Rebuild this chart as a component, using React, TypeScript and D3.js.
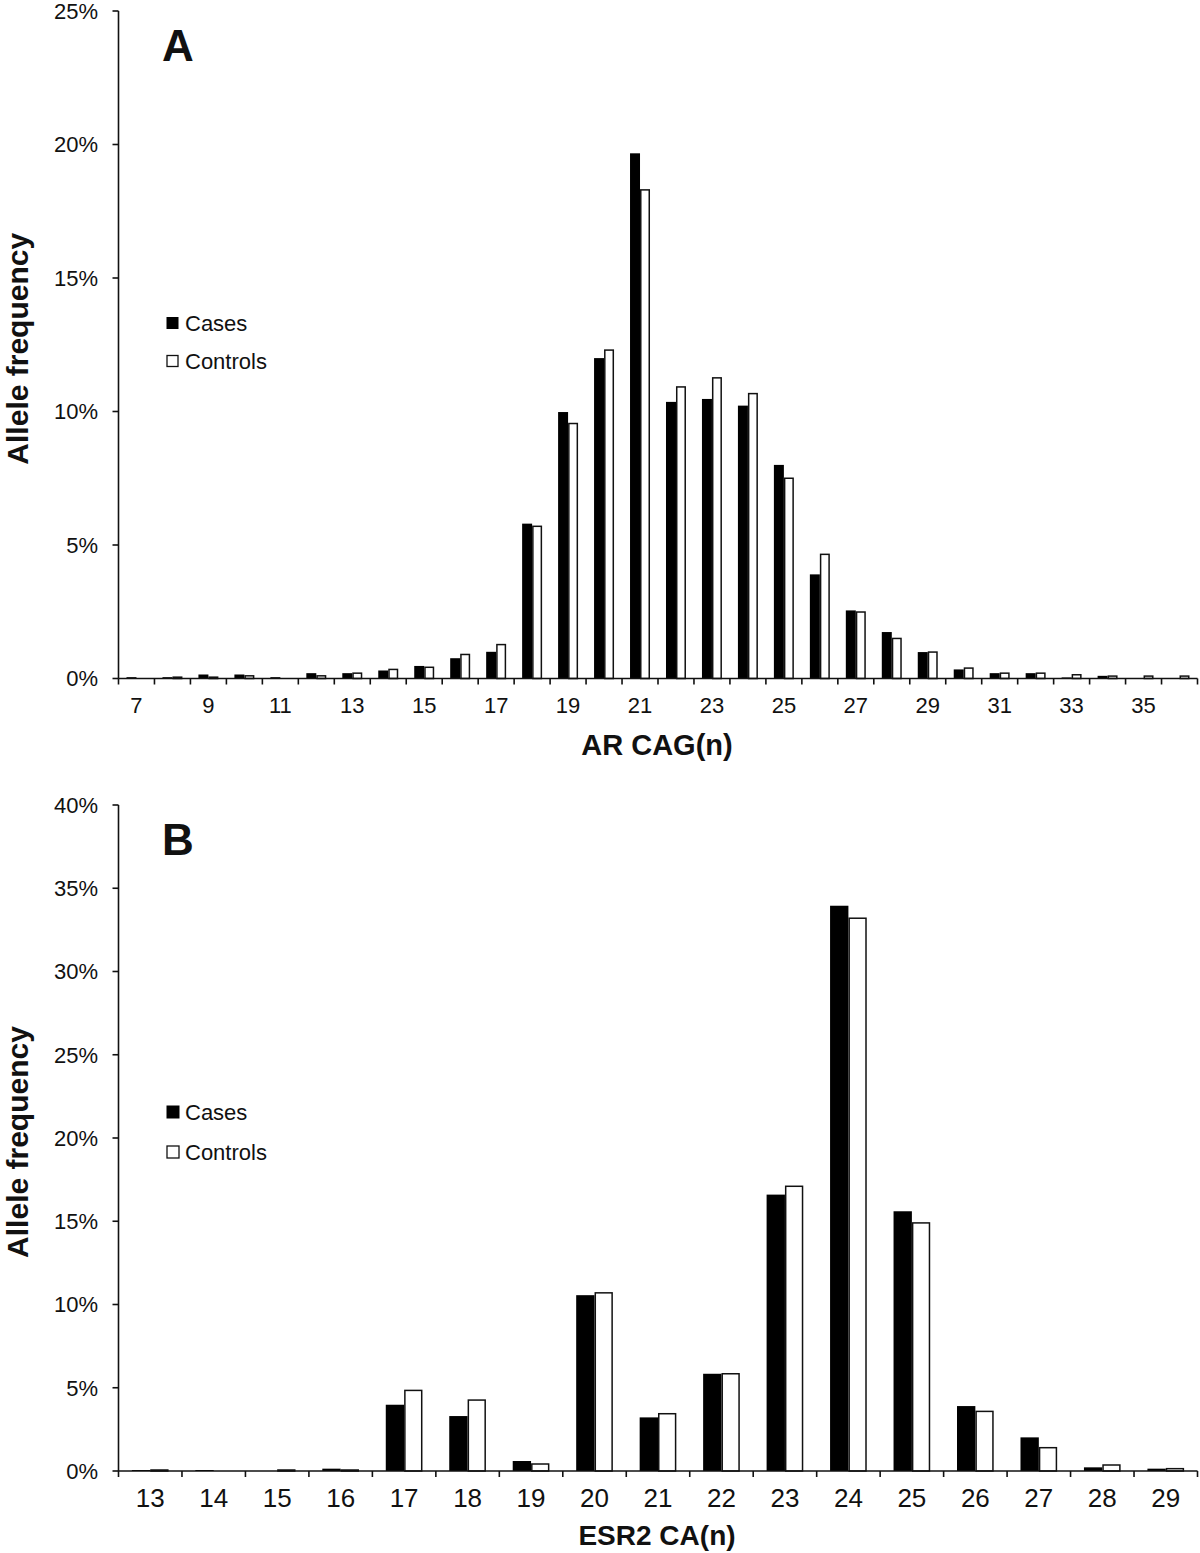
import React from 'react';
import * as d3 from 'd3';

const catsA = [7,8,9,10,11,12,13,14,15,16,17,18,19,20,21,22,23,24,25,26,27,28,29,30,31,32,33,34,35,36];
const casesA = [0.05,0.05,0.15,0.15,0.05,0.2,0.2,0.3,0.47,0.76,1.0,5.8,9.98,12.0,19.67,10.36,10.47,10.22,8.0,3.9,2.55,1.74,0.99,0.34,0.2,0.2,0.04,0.1,0,0];
const controlsA = [0,0.05,0.05,0.1,0,0.1,0.2,0.34,0.42,0.9,1.27,5.7,9.55,12.3,18.3,10.92,11.26,10.67,7.5,4.65,2.49,1.5,0.99,0.39,0.2,0.2,0.14,0.09,0.09,0.09];
const ticksA = [0,5,10,15,20,25];

const catsB = [13,14,15,16,17,18,19,20,21,22,23,24,25,26,27,28,29];
const casesB = [0.06,0.06,0,0.14,3.98,3.3,0.6,10.56,3.22,5.84,16.6,33.95,15.6,3.9,2.02,0.22,0.14];
const controlsB = [0.06,0,0.06,0.06,4.84,4.26,0.42,10.7,3.44,5.84,17.1,33.2,14.9,3.58,1.4,0.36,0.14];
const ticksB = [0,5,10,15,20,25,30,35,40];

const seriesNames = ['Cases', 'Controls'];
const FONT = 'Liberation Sans, Arial, sans-serif';

type PanelProps = {
  cats: number[]; cases: number[]; controls: number[]; ticks: number[];
  yMax: number; top: number; bottom: number; outerPad: number;
  labelEvery: number; letter: string; xTitle: string; titleSize: number;
  legendY: number; legendGap: number; legendSq: number; titleY: number; labelY: number; labelSize: number;
};

function Panel(p: PanelProps) {
  const left = 118.5, right = 1197.5;
  const x = d3.scaleBand<number>().domain(p.cats).range([left, right]).padding(0);
  const sub = d3.scaleBand<string>().domain(seriesNames).range([0, x.step()]).paddingInner(0).paddingOuter(p.outerPad);
  const y = d3.scaleLinear().domain([0, p.yMax]).range([p.bottom, p.top]);
  const bw = sub.bandwidth();
  const boundaries = d3.range(p.cats.length + 1).map(i => left + i * x.step());
  const midY = (p.top + p.bottom) / 2 + 4;
  return (
    <g fontFamily={FONT}>
      {p.cats.map((c, i) => {
        const x0 = x(c)!;
        const hC = p.bottom - y(p.cases[i]);
        const hK = p.bottom - y(p.controls[i]);
        return (
          <g key={c}>
            {p.cases[i] > 0 && (
              <rect x={x0 + sub('Cases')!} y={y(p.cases[i])} width={bw} height={hC} fill="#000" />
            )}
            {p.controls[i] > 0 && (
              <rect x={x0 + sub('Controls')! + 0.75} y={y(p.controls[i])} width={bw - 1.5} height={hK} fill="#fff" stroke="#111" strokeWidth={1.5} />
            )}
          </g>
        );
      })}
      {/* y axis */}
      <line x1={left} x2={left} y1={p.top} y2={p.bottom} stroke="#111" strokeWidth={1.6} />
      {p.ticks.map(t => (
        <g key={t}>
          <line x1={left - 6} x2={left} y1={y(t)} y2={y(t)} stroke="#111" strokeWidth={1.6} />
          <text x={98} y={y(t)} dy="0.36em" textAnchor="end" fontSize={22} fill="#111">{t}%</text>
        </g>
      ))}
      {/* x axis */}
      <line x1={left} x2={right} y1={p.bottom} y2={p.bottom} stroke="#111" strokeWidth={1.6} />
      {boundaries.map((b, i) => (
        <line key={i} x1={b} x2={b} y1={p.bottom} y2={p.bottom + 6} stroke="#111" strokeWidth={1.6} />
      ))}
      {p.cats.map((c, i) => (i % p.labelEvery === 0) ? (
        <text key={c} x={x(c)! + x.step() / 2} y={p.labelY} textAnchor="middle" fontSize={p.labelSize} fill="#111">{c}</text>
      ) : null)}
      <text x={657} y={p.titleY} textAnchor="middle" fontSize={p.titleSize} fontWeight="bold" fill="#111">{p.xTitle}</text>
      <text transform={`translate(28,${midY}) rotate(-90)`} textAnchor="middle" fontSize={30} fontWeight="bold" fill="#111">Allele frequency</text>
      <text x={162} y={p.top + 50} fontSize={44} fontWeight="bold" fill="#111">{p.letter}</text>
      {/* legend */}
      <rect x={166.5} y={p.legendY - p.legendSq / 2} width={p.legendSq} height={p.legendSq} fill="#000" />
      <text x={185} y={p.legendY} dy="0.36em" fontSize={22} fill="#111">{seriesNames[0]}</text>
      <rect x={167} y={p.legendY + p.legendGap - p.legendSq / 2 + 0.5} width={p.legendSq - 1} height={p.legendSq - 1} fill="#fff" stroke="#111" strokeWidth={1.3} />
      <text x={185} y={p.legendY + p.legendGap} dy="0.36em" fontSize={22} fill="#111">{seriesNames[1]}</text>
    </g>
  );
}

export default function App() {
  return (
    <svg width={1200} height={1553} style={{ position: 'absolute', left: 0, top: 0, background: '#fff' }}>
      <rect width={1200} height={1553} fill="#fff" />
      <Panel cats={catsA} cases={casesA} controls={controlsA} ticks={ticksA} yMax={25}
        top={11} bottom={678.5} outerPad={0.8} labelEvery={2} letter="A" xTitle="AR CAG(n)" titleSize={29}
        legendY={323} legendGap={38} legendSq={12} titleY={755} labelY={713} labelSize={22} />
      <Panel cats={catsB} cases={casesB} controls={controlsB} ticks={ticksB} yMax={40}
        top={805} bottom={1471} outerPad={0.73} labelEvery={1} letter="B" xTitle="ESR2 CA(n)" titleSize={28}
        legendY={1112} legendGap={40} legendSq={13} titleY={1545} labelY={1507} labelSize={26} />
    </svg>
  );
}
